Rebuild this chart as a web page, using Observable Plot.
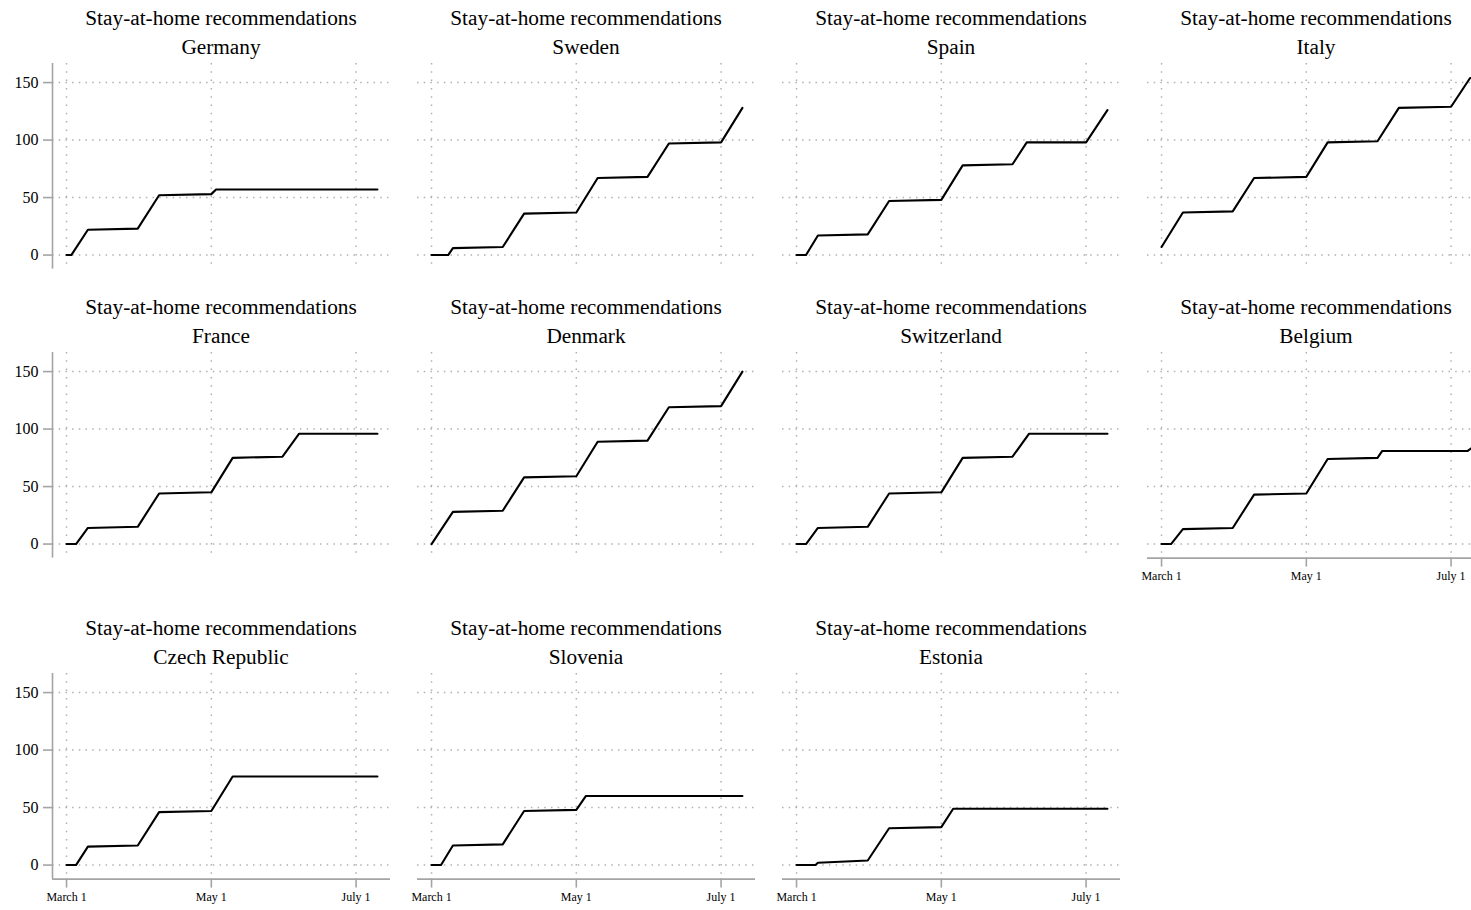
<!DOCTYPE html>
<html>
<head>
<meta charset="utf-8">
<script src="https://cdn.jsdelivr.net/npm/d3@7"></script>
<script src="https://cdn.jsdelivr.net/npm/@observablehq/plot@0.6"></script>
<style>
  html, body { margin: 0; padding: 0; background: #fff; overflow: hidden; }
  #wrap { position: relative; width: 1471px; height: 910px; overflow: hidden; background: #fff; }
  .ttl { position: absolute; width: 365px; text-align: center; font-family: "Liberation Serif", "Times New Roman", serif;
         font-size: 21.3px; line-height: 29px; color: #000; white-space: nowrap; }
</style>
</head>
<body>
<div id="wrap"></div>
<script>
// ---------- data (date, cumulative count) ----------
const titleLine = "Stay-at-home recommendations";
const countries = ["Germany", "Sweden", "Spain", "Italy", "France", "Denmark", "Switzerland", "Belgium", "Czech Republic", "Slovenia", "Estonia"];

const germany = [["2020-03-01",0],["2020-03-03",0],["2020-03-10",22],["2020-03-31",23],["2020-04-09",52],["2020-05-01",53],["2020-05-03",57],["2020-07-10",57]];
const sweden = [["2020-03-01",0],["2020-03-08",0],["2020-03-10",6],["2020-03-31",7],["2020-04-09",36],["2020-05-01",37],["2020-05-10",67],["2020-05-31",68],["2020-06-09",97],["2020-07-01",98],["2020-07-10",128]];
const spain = [["2020-03-01",0],["2020-03-05",0],["2020-03-10",17],["2020-03-31",18],["2020-04-09",47],["2020-05-01",48],["2020-05-10",78],["2020-05-31",79],["2020-06-06",98],["2020-07-01",98],["2020-07-10",126]];
const italy = [["2020-03-01",7],["2020-03-10",37],["2020-03-31",38],["2020-04-09",67],["2020-05-01",68],["2020-05-10",98],["2020-05-31",99],["2020-06-09",128],["2020-07-01",129],["2020-07-09",154],["2020-07-10",154]];
const france = [["2020-03-01",0],["2020-03-05",0],["2020-03-10",14],["2020-03-31",15],["2020-04-09",44],["2020-05-01",45],["2020-05-10",75],["2020-05-31",76],["2020-06-07",96],["2020-07-10",96]];
const denmark = [["2020-03-01",0],["2020-03-10",28],["2020-03-31",29],["2020-04-09",58],["2020-05-01",59],["2020-05-10",89],["2020-05-31",90],["2020-06-09",119],["2020-07-01",120],["2020-07-10",150]];
const switzerland = [["2020-03-01",0],["2020-03-05",0],["2020-03-10",14],["2020-03-31",15],["2020-04-09",44],["2020-05-01",45],["2020-05-10",75],["2020-05-31",76],["2020-06-07",96],["2020-07-10",96]];
const belgium = [["2020-03-01",0],["2020-03-05",0],["2020-03-10",13],["2020-03-31",14],["2020-04-09",43],["2020-05-01",44],["2020-05-10",74],["2020-05-31",75],["2020-06-02",81],["2020-07-08",81],["2020-07-10",84]];
const czech = [["2020-03-01",0],["2020-03-05",0],["2020-03-10",16],["2020-03-31",17],["2020-04-09",46],["2020-05-01",47],["2020-05-10",77],["2020-07-10",77]];
const slovenia = [["2020-03-01",0],["2020-03-05",0],["2020-03-10",17],["2020-03-31",18],["2020-04-09",47],["2020-05-01",48],["2020-05-05",60],["2020-07-10",60]];
const estonia = [["2020-03-01",0],["2020-03-09",0],["2020-03-10",2],["2020-03-31",4],["2020-04-09",32],["2020-05-01",33],["2020-05-06",49],["2020-07-10",49]];

const series = [germany, sweden, spain, italy, france, denmark, switzerland, belgium, czech, slovenia, estonia];

const yTicks = [0, 50, 100, 150];
const xTicks = ["2020-03-01", "2020-05-01", "2020-07-01"];
const xTickLabels = ["March 1", "May 1", "July 1"];
const xDomain = ["2020-02-24T02:00:00Z", "2020-07-15T12:00:00Z"];
const yDomain = [-12.2, 166.6];

// ---------- layout ----------
const colStep = 365;
const rowPlotTop = [62.7, 351.7, 672.7];
const rowTitleTop = [4.4, 293.4, 614.4];
const plotH = 205.6;
const mL = 52, mR = 2, mT = 5, mB = 38;
const axisGray = "#a4a4a4";
const gridGray = "#b0b0b0";
const fontFam = '"Liberation Serif", "Times New Roman", serif';

const wrap = document.getElementById("wrap");
const xTickDates = xTicks.map(d => new Date(d + "T00:00:00Z"));

series.forEach((data, i) => {
  const col = i % 4, row = Math.floor(i / 4);
  const showY = col === 0;
  const showX = row === 2 || i === 7;
  const rows = data.map(([d, v]) => ({date: new Date(d + "T00:00:00Z"), value: v}));

  const marks = [
    Plot.gridY(yTicks, {stroke: gridGray, strokeOpacity: 1, strokeWidth: 1.5, strokeDasharray: "1.5,5.2"}),
    Plot.gridX(xTickDates, {stroke: gridGray, strokeOpacity: 1, strokeWidth: 1.5, strokeDasharray: "1.5,6.8"}),
    Plot.line(rows, {x: "date", y: "value", stroke: "#000", strokeWidth: 2.1, strokeLinejoin: "round"})
  ];
  if (showY) {
    marks.push(Plot.ruleX([new Date(xDomain[0])], {stroke: axisGray, strokeWidth: 1.6}));
    marks.push(Plot.axisY(yTicks, {tickSize: 9, tickPadding: 5, fontSize: 16, stroke: axisGray, strokeWidth: 1.6, fill: "#000", label: null}));
  }
  if (showX) {
    marks.push(Plot.ruleY([yDomain[0]], {stroke: axisGray, strokeWidth: 1.6}));
    marks.push(Plot.axisX(xTickDates, {tickSize: 9, tickPadding: 4, fontSize: 12, stroke: axisGray, strokeWidth: 1.6, fill: "#000", label: null,
      tickFormat: d => xTickLabels[xTickDates.findIndex(t => +t === +d)]}));
  }

  const svg = Plot.plot({
    width: mL + 338 + mR,
    height: mT + plotH + mB,
    marginLeft: mL, marginRight: mR, marginTop: mT, marginBottom: mB,
    x: {type: "utc", domain: xDomain.map(d => new Date(d)), axis: showX ? undefined : null, label: null},
    y: {domain: yDomain, axis: showY ? undefined : null, label: null},
    style: {background: "transparent", fontFamily: fontFam, color: "#000", overflow: "visible"},
    marks
  });
  svg.style.position = "absolute";
  svg.style.left = (col * colStep) + "px";
  svg.style.top = (rowPlotTop[row] - mT) + "px";
  svg.style.maxWidth = "none";
  wrap.appendChild(svg);

  const t = document.createElement("div");
  t.className = "ttl";
  t.style.left = (col * colStep + mL + 169 - colStep / 2) + "px";
  t.style.top = rowTitleTop[row] + "px";
  const l1 = document.createElement("div"); l1.textContent = titleLine;
  const l2 = document.createElement("div"); l2.textContent = countries[i];
  t.appendChild(l1); t.appendChild(l2);
  wrap.appendChild(t);
});
</script>
</body>
</html>
